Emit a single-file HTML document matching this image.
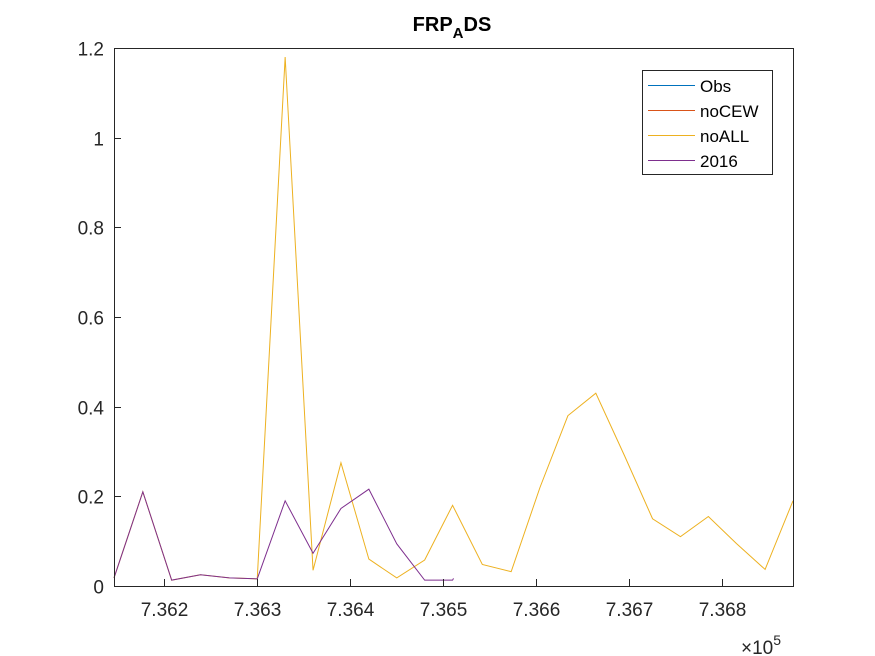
<!DOCTYPE html>
<html><head><meta charset="utf-8"><style>
body{margin:0;background:#fff;}
svg{display:block;font-family:"Liberation Sans",Arial,sans-serif;}
</style></head><body>
<svg id="chart" width="875" height="656" viewBox="0 0 875 656" xmlns="http://www.w3.org/2000/svg">
<rect width="875" height="656" fill="#fff"/>
<text x="452" y="31" text-anchor="middle" font-size="20" font-weight="bold" fill="#000">FRP<tspan font-size="15" dy="7">A</tspan><tspan dy="-7">DS</tspan></text>
<g id="series"></g>
<rect x="114.5" y="48.5" width="679" height="538" fill="none" stroke="#262626" stroke-width="1"/>
<g id="ticks"></g>
<text x="741" y="654" font-size="19" fill="#262626">×10<tspan font-size="14" dy="-9">5</tspan></text>
<g>
<rect x="642.5" y="70.5" width="130" height="104" fill="#fff" stroke="#262626" stroke-width="1"/>
<g><line x1="648" y1="85.5" x2="695" y2="85.5" stroke="#0072BD"/><text x="700" y="92" font-size="17" fill="#000">Obs</text></g>
<g><line x1="648" y1="110.5" x2="695" y2="110.5" stroke="#D95319"/><text x="700" y="117" font-size="17" fill="#000">noCEW</text></g>
<g><line x1="648" y1="135.5" x2="695" y2="135.5" stroke="#EDB120"/><text x="700" y="142" font-size="17" fill="#000">noALL</text></g>
<g><line x1="648" y1="160.5" x2="695" y2="160.5" stroke="#7E2F8E"/><text x="700" y="167" font-size="17" fill="#000">2016</text></g>
</g>
</svg>
<script>
const noallDates=[736146,736177,736208,736239,736270,736300,736330,736360,736390,736420,736450,736480,736510,736542,736573,736604,736634,736664,736695,736725,736755,736785,736815,736846,736876];
const noallValues=[0.018,0.21,0.013,0.025,0.018,0.016,1.18,0.035,0.275,0.06,0.018,0.058,0.18,0.048,0.032,0.22,0.38,0.43,0.29,0.15,0.11,0.155,0.095,0.037,0.19];
const y2016Dates=[736146,736177,736208,736239,736270,736300,736330,736360,736390,736420,736450,736480,736510,736511];
const y2016Values=[0.018,0.21,0.013,0.025,0.018,0.016,0.19,0.073,0.173,0.216,0.094,0.013,0.013,0.017];
const xTicks=[736200,736300,736400,736500,736600,736700,736800];
const xTickLabels=["7.362","7.363","7.364","7.365","7.366","7.367","7.368"];
const yTicks=[0,0.2,0.4,0.6,0.8,1,1.2];
const yTickLabels=["0","0.2","0.4","0.6","0.8","1","1.2"];
const NS="http://www.w3.org/2000/svg";
const X0=114,X1=793,Y0=586,Y1=48,XMIN=736146,XMAX=736876,YMIN=0,YMAX=1.2;
function xs(d){return X0+(d-XMIN)/(XMAX-XMIN)*(X1-X0);}
function ys(v){return Y0-(v-YMIN)/(YMAX-YMIN)*(Y0-Y1);}
const ticks=document.getElementById('ticks');
xTicks.forEach((t,i)=>{
  const x=Math.round(xs(t))+0.5;
  const l=document.createElementNS(NS,'line');
  l.setAttribute('x1',x);l.setAttribute('x2',x);l.setAttribute('y1',Y0);l.setAttribute('y2',Y0-7);
  l.setAttribute('stroke','#262626');
  
  
  ticks.appendChild(l);
  const tx=document.createElementNS(NS,'text');
  tx.setAttribute('x',x);tx.setAttribute('y',616);tx.setAttribute('text-anchor','middle');
  tx.setAttribute('font-size','19');tx.setAttribute('fill','#262626');
  tx.textContent=xTickLabels[i];
  
  
  ticks.appendChild(tx);
});
yTicks.forEach((t,i)=>{
  const y=Math.round(ys(t))+0.5;
  const l=document.createElementNS(NS,'line');
  l.setAttribute('x1',X0);l.setAttribute('x2',X0+7);l.setAttribute('y1',y);l.setAttribute('y2',y);
  l.setAttribute('stroke','#262626');
  
  
  ticks.appendChild(l);
  const tx=document.createElementNS(NS,'text');
  tx.setAttribute('x',104);tx.setAttribute('y',y+7);tx.setAttribute('text-anchor','end');
  tx.setAttribute('font-size','19');tx.setAttribute('fill','#262626');
  tx.textContent=yTickLabels[i];
  
  
  ticks.appendChild(tx);
});
const series=document.getElementById('series');
function line(dates,vals,color,name){
  const p=document.createElementNS(NS,'polyline');
  p.setAttribute('points',dates.map((d,i)=>xs(d)+','+ys(vals[i])).join(' '));
  p.setAttribute('fill','none');p.setAttribute('stroke',color);p.setAttribute('stroke-width','1');
  
  
  series.appendChild(p);
}
line(noallDates,noallValues,'#EDB120','series-noall');
line(y2016Dates,y2016Values,'#7E2F8E','series-2016');
</script>
</body></html>
